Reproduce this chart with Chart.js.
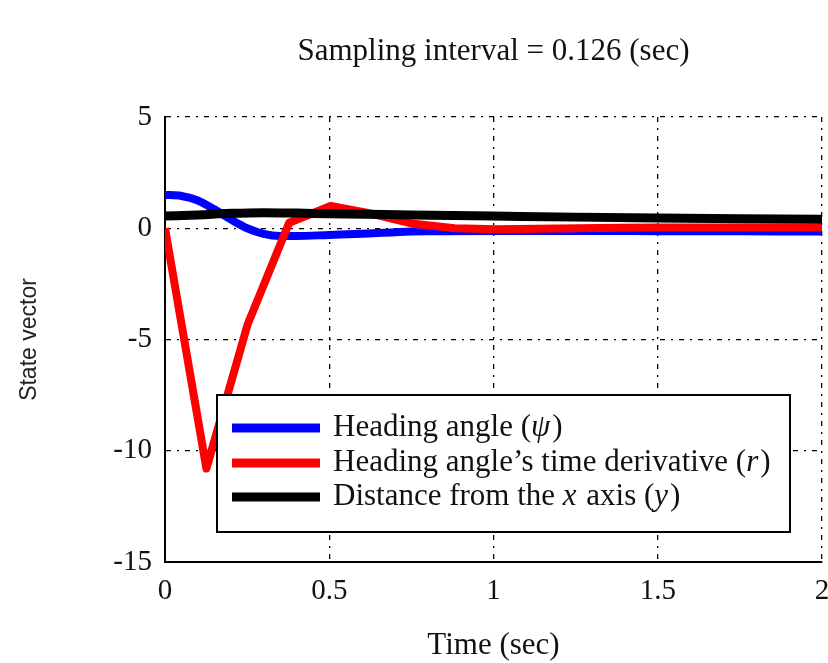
<!DOCTYPE html>
<html>
<head>
<meta charset="utf-8">
<script src="https://cdn.jsdelivr.net/npm/chart.js@4/dist/chart.umd.min.js"></script>
<style>
  html, body { margin: 0; padding: 0; background: #fff; }
  #wrap { width: 828px; height: 663px; position: relative; }
</style>
</head>
<body>
<div id="wrap"><canvas id="c" width="828" height="663"></canvas></div>
<script>
// ---- data ----
const chartTitle = 'Sampling interval = 0.126 (sec)';
const xLabel = 'Time (sec)';
const yLabel = 'State vector';

// Heading angle (psi) - continuous state
const tPsi = [0, 0.05, 0.1, 0.15, 0.2, 0.25, 0.3, 0.35, 0.4, 0.5, 0.6, 0.7, 0.8, 1.0, 1.25, 1.5, 1.75, 2.0];
const psiVals = [1.5, 1.45, 1.25, 0.85, 0.4, 0.0, -0.25, -0.35, -0.35, -0.3, -0.25, -0.18, -0.14, -0.12, -0.12, -0.13, -0.14, -0.15];

// Heading angle's time derivative (r) - sampled every 0.126 s
const tR = [0, 0.126, 0.252, 0.378, 0.504, 0.63, 0.756, 0.882, 1.008, 1.134, 1.26, 1.386, 1.512, 1.638, 1.764, 1.89, 2.016];
const rVals = [0, -10.8, -4.3, 0.25, 1.0, 0.65, 0.2, 0.0, -0.05, -0.02, 0.0, 0.02, 0.03, 0.03, 0.03, 0.03, 0.03];

// Distance from the x axis (y)
const tY = [0, 0.1, 0.2, 0.3, 0.4, 0.5, 0.75, 1.0, 1.25, 1.5, 1.75, 2.0];
const yVals = [0.55, 0.6, 0.67, 0.7, 0.68, 0.65, 0.6, 0.55, 0.5, 0.46, 0.43, 0.4];

const xTickLabels = {0: '0', 0.5: '0.5', 1: '1', 1.5: '1.5', 2: '2'};
const yTickLabels = {5: '5', 0: '0', '-5': '-5', '-10': '-10', '-15': '-15'};

const legendItems = [
  { color: '#0000ff', parts: [['Heading angle (', false], ['ψ', true], [')', false]] },
  { color: '#ff0000', parts: [['Heading angle’s time derivative (', false], ['r', true], [')', false]] },
  { color: '#000000', parts: [['Distance from the ', false], ['x', true], [' axis (', false], ['y', true], [')', false]] }
];

const toXY = (ts, vs) => ts.map((t, i) => ({ x: t, y: vs[i] }));

const SERIF = '"Liberation Serif", "Times New Roman", serif';

const titlePlugin = {
  id: 'topTitle',
  afterDraw(chart) {
    const { ctx, chartArea } = chart;
    ctx.save();
    ctx.fillStyle = '#111';
    ctx.font = '31px ' + SERIF;
    ctx.textAlign = 'center';
    ctx.textBaseline = 'middle';
    ctx.fillText(chartTitle, (chartArea.left + chartArea.right) / 2, 52);
    ctx.restore();
  }
};

const boxLegend = {
  id: 'boxLegend',
  afterDraw(chart) {
    const { ctx } = chart;
    const bx = 217, by = 395, bw = 573, bh = 137;
    ctx.save();
    ctx.fillStyle = '#fff';
    ctx.fillRect(bx, by, bw, bh);
    ctx.strokeStyle = '#000';
    ctx.lineWidth = 2;
    ctx.strokeRect(bx, by, bw, bh);
    const rows = [428, 463, 497];
    legendItems.forEach((it, i) => {
      const y = rows[i];
      ctx.strokeStyle = it.color;
      ctx.lineWidth = 9;
      ctx.lineCap = 'butt';
      ctx.beginPath();
      ctx.moveTo(232, y);
      ctx.lineTo(320, y);
      ctx.stroke();
      let x = 333;
      ctx.fillStyle = '#111';
      ctx.textBaseline = 'middle';
      ctx.textAlign = 'left';
      it.parts.forEach(([txt, ital]) => {
        ctx.font = (ital ? 'italic ' : '') + '31px ' + SERIF;
        ctx.fillText(txt, x, y);
        x += ctx.measureText(txt).width + (ital ? 2 : 0);
      });
    });
    ctx.restore();
  }
};

const gridDash = [5, 6, 2, 6];

new Chart(document.getElementById('c'), {
  type: 'line',
  data: {
    datasets: [
      { label: 'Heading angle (ψ)', data: toXY(tPsi, psiVals), borderColor: '#0000ff', borderWidth: 8,
        pointRadius: 0, tension: 0.4, cubicInterpolationMode: 'monotone', order: 3 },
      { label: 'Heading angle’s time derivative (r)', data: toXY(tR, rVals), borderColor: '#ff0000', borderWidth: 8,
        pointRadius: 0, tension: 0, borderJoinStyle: 'round', order: 2 },
      { label: 'Distance from the x axis (y)', data: toXY(tY, yVals), borderColor: '#000000', borderWidth: 9,
        pointRadius: 0, tension: 0.4, cubicInterpolationMode: 'monotone', order: 1 }
    ]
  },
  plugins: [titlePlugin, boxLegend],
  options: {
    responsive: false,
    animation: false,
    devicePixelRatio: 1,
    layout: { padding: { top: 117, right: 6, left: 0, bottom: 0 } },
    plugins: { legend: { display: false }, title: { display: false }, tooltip: { enabled: false } },
    scales: {
      x: {
        type: 'linear', min: 0, max: 2,
        afterFit(s) { s.height = 101; s.paddingLeft = 0; s.paddingRight = 0; },
        ticks: { stepSize: 0.5, padding: 12, color: '#111', font: { family: SERIF, size: 29 },
                 callback: v => xTickLabels[v] ?? '' , maxRotation: 0 },
        grid: { color: '#000', lineWidth: 1.3, drawTicks: false },
        border: { display: true, color: '#000', width: 2, dash: gridDash },
        title: { display: true, text: xLabel, color: '#111', font: { family: SERIF, size: 31, lineHeight: 1 }, padding: { bottom: 2, top: 0 } }
      },
      y: {
        type: 'linear', min: -15, max: 5,
        afterFit(s) { s.width = 165; s.paddingTop = 0; s.paddingBottom = 0; },
        ticks: { stepSize: 5, padding: 13, color: '#111', font: { family: SERIF, size: 29 },
                 callback: v => yTickLabels[v] ?? '' },
        grid: { color: '#000', lineWidth: 1.3, drawTicks: false },
        border: { display: true, color: '#000', width: 2, dash: gridDash },
        title: { display: true, text: yLabel, color: '#222', font: { family: '"Liberation Sans", Arial, sans-serif', size: 23, lineHeight: 1.2 }, padding: { top: 16, bottom: 0 } }
      }
    }
  }
});
</script>
</body>
</html>
